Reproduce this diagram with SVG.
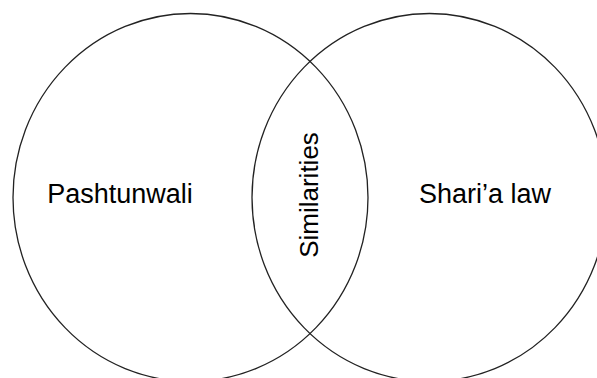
<svg xmlns="http://www.w3.org/2000/svg" width="597" height="378" viewBox="0 0 597 378">
<style>
.c{fill:none;stroke:#222;stroke-width:1.3}
.t{font-family:"Liberation Sans",Arial,Helvetica,sans-serif;font-size:26px;fill:#000}
.h{font-size:27px}
</style>
<rect width="597" height="378" fill="#fff"/>
<g id="pashtunwali">
<ellipse class="c" cx="190.5" cy="197.5" rx="177.5" ry="184"/>
<text class="t h" x="120" y="203" text-anchor="middle">Pashtunwali</text>
</g>
<g id="sharia">
<ellipse class="c" cx="429.5" cy="197.5" rx="177.5" ry="184"/>
<text class="t h" x="485" y="203" text-anchor="middle">Shari’a law</text>
</g>
<g id="similarities">
<text class="t" transform="translate(318,195) rotate(-90)" text-anchor="middle">Similarities</text>
</g>
<g id="connectors"/>
</svg>
